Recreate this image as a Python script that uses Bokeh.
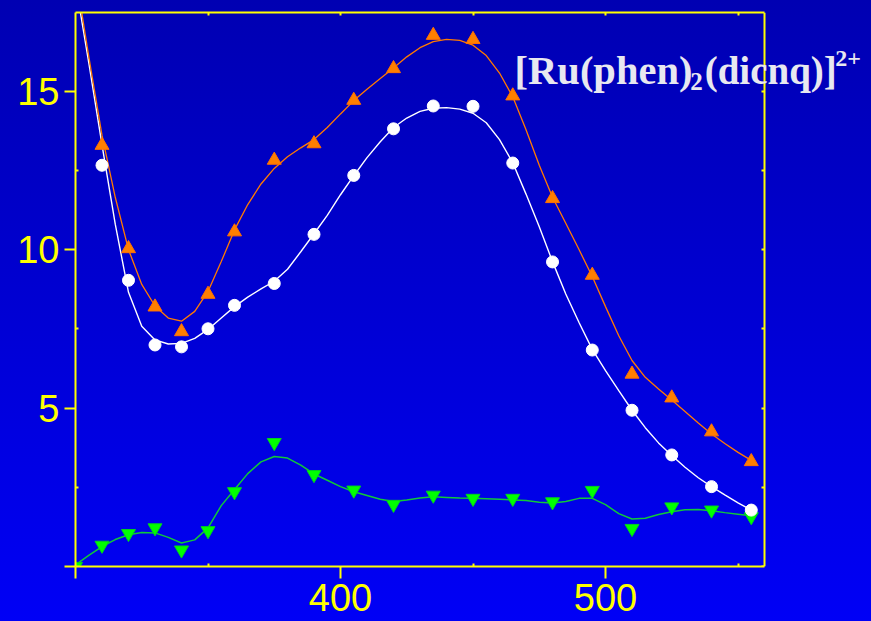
from bokeh.plotting import figure
from bokeh.models import (Range1d, FixedTicker, LinearAxis, Label, GlobalInlineStyleSheet)
from bokeh.embed import file_html
from bokeh.resources import INLINE

# ---- measured points ----
wavelength = [310, 320, 330, 340, 350, 360, 375, 390, 405, 420, 435, 450, 465, 480, 495, 510, 525, 540, 555]
orange_pts = [13.29, 10.03, 8.19, 7.41, 8.59, 10.56, 12.82, 13.34, 14.71, 15.71, 16.76, 16.63, 14.85, 11.61, 9.19, 6.07, 5.32, 4.25, 3.31]
white_pts = [12.66, 9.03, 6.99, 6.93, 7.50, 8.24, 8.93, 10.48, 12.34, 13.81, 14.53, 14.52, 12.73, 9.61, 6.83, 4.93, 3.52, 2.52, 1.78]
green_wl = [300, 310, 320, 330, 340, 350, 360, 375, 390, 405, 420, 435, 450, 465, 480, 495, 510, 525, 540, 555]
green_pts = [0.0, 0.67, 1.04, 1.22, 0.52, 1.13, 2.36, 3.91, 2.90, 2.41, 1.96, 2.25, 2.15, 2.15, 2.04, 2.40, 1.20, 1.88, 1.78, 1.57]

# ---- fitted curves ----
curve_wl = [300, 305, 310, 315, 320, 325, 330, 335, 340, 345, 350, 355, 360, 365, 370, 375, 380, 385,
            390, 395, 400, 405, 410, 415, 420, 425, 430, 435, 440, 445, 450, 455, 460, 465, 470, 475,
            480, 485, 490, 495, 500, 505, 510, 515, 520, 525, 530, 535, 540, 545, 550, 555]
orange_fit = [18.7, 16.1, 13.6, 11.65, 10.0, 8.9, 8.22, 7.84, 7.74, 8.05, 8.68, 9.62, 10.62, 11.42, 12.07, 12.56, 12.93, 13.21,
              13.47, 13.85, 14.28, 14.7, 15.06, 15.4, 15.73, 16.08, 16.37, 16.56, 16.63, 16.6, 16.45, 16.12, 15.57, 14.82, 13.78, 12.66,
              11.65, 10.83, 10.0, 9.15, 8.2, 7.28, 6.5, 5.97, 5.6, 5.25, 4.89, 4.53, 4.18, 3.88, 3.6, 3.35]
white_fit = [18.4, 15.9, 13.3, 10.8, 8.65, 7.58, 7.15, 7.02, 7.04, 7.2, 7.48, 7.84, 8.2, 8.5, 8.76, 9.0, 9.38, 9.93,
             10.5, 11.08, 11.73, 12.33, 12.9, 13.4, 13.85, 14.15, 14.36, 14.46, 14.48, 14.43, 14.3, 14.0, 13.47, 12.74, 11.75, 10.72,
             9.62, 8.6, 7.7, 6.85, 6.18, 5.55, 4.93, 4.38, 3.9, 3.5, 3.13, 2.8, 2.52, 2.26, 2.01, 1.78]
green_fit = [0.05, 0.35, 0.63, 0.85, 1.0, 1.07, 1.06, 0.92, 0.74, 0.84, 1.22, 1.92, 2.43, 2.93, 3.3, 3.47, 3.42, 3.2,
             2.92, 2.72, 2.52, 2.36, 2.24, 2.12, 2.05, 2.1, 2.16, 2.2, 2.18, 2.16, 2.15, 2.14, 2.12, 2.1, 2.08, 2.03,
             2.0, 2.05, 2.15, 2.15, 1.95, 1.67, 1.5, 1.52, 1.64, 1.73, 1.79, 1.8, 1.76, 1.7, 1.65, 1.6]

x_ticks = [300, 400, 500]
x_minor = [350, 450, 550]
y_ticks = [0, 5, 10, 15]
y_minor = [2.5, 7.5, 12.5, 17.5]
top_ticks = [350, 400, 450, 500, 550]
right_ticks = [0, 2.5, 5, 7.5, 10, 12.5, 15, 17.5]

YELLOW = "#ffff00"

css = GlobalInlineStyleSheet(css="""
html { height: 100%; background: linear-gradient(to bottom, #0000b2 0%, #0000d0 45%, #0000f6 100%); }
body { margin: 0; padding: 0; overflow: hidden; background: transparent; }
""")

# frame spans 300..560 over 689 px; it is extended to the right so the title is not clipped
p = figure(frame_width=790, frame_height=554, output_backend="svg", toolbar_location=None,
           x_range=Range1d(300, 598.1), y_range=Range1d(0, 17.48),
           min_border_left=75, min_border_right=6, min_border_top=12, min_border_bottom=55,
           background_fill_alpha=0, border_fill_alpha=0, outline_line_color=None)
p.stylesheets = [css]
p.grid.visible = False

for ax in (p.xaxis[0], p.yaxis[0]):
    ax.axis_line_color = YELLOW
    ax.axis_line_width = 2
    ax.major_tick_line_color = YELLOW
    ax.major_tick_line_width = 2
    ax.minor_tick_line_color = YELLOW
    ax.minor_tick_line_width = 2
    ax.major_tick_in = 0
    ax.minor_tick_in = 3
    ax.minor_tick_out = 0
    ax.major_label_text_color = YELLOW
    ax.major_label_text_font = "Liberation Sans"
    ax.major_label_text_font_size = "38px"

p.xaxis[0].ticker = FixedTicker(ticks=x_ticks, minor_ticks=x_minor)
p.xaxis[0].major_label_overrides = {300: ""}
p.xaxis[0].major_tick_out = 12
p.xaxis[0].major_label_standoff = 5
p.xaxis[0].bounds = (300, 560)

p.yaxis[0].ticker = FixedTicker(ticks=y_ticks, minor_ticks=y_minor)
p.yaxis[0].major_label_overrides = {0: ""}
p.yaxis[0].major_tick_out = 11
p.yaxis[0].major_label_standoff = 5

top = LinearAxis(ticker=FixedTicker(ticks=top_ticks, minor_ticks=[]), bounds=(300, 560))
right = LinearAxis(ticker=FixedTicker(ticks=right_ticks, minor_ticks=[]), fixed_location=560)
for ax in (top, right):
    ax.axis_line_color = YELLOW
    ax.axis_line_width = 2
    ax.major_tick_line_color = YELLOW
    ax.major_tick_line_width = 2
    ax.major_tick_in = 3
    ax.major_tick_out = 0
    ax.major_label_text_font_size = "0px"
    ax.major_label_text_alpha = 0
    ax.major_label_standoff = 0
p.add_layout(top, "above")
p.add_layout(right, "right")

# fitted curves
p.line(curve_wl, green_fit, line_color="#10c838", line_width=1.5)
p.line(curve_wl, white_fit, line_color="#ffffff", line_width=1.4)
p.line(curve_wl, orange_fit, line_color="#ff7a00", line_width=1.3)

# markers
p.scatter(green_wl, green_pts, marker="inverted_triangle", size=14, fill_color="#00ff00",
          line_color="#00d020", line_width=1)
p.scatter(wavelength, white_pts, marker="circle", size=12, fill_color="#ffffff", line_color="#ffffff")
p.scatter(wavelength, orange_pts, marker="triangle", size=14, fill_color="#ff7f00",
          line_color="#ff7000", line_width=1)

# compound title
TF = "Liberation Serif"
TC = "#e8e8f0"
p.add_layout(Label(x=465.7, y=15.64, text="[Ru(phen)", text_font=TF, text_font_style="bold",
                   text_font_size="40.5px", text_color=TC, text_baseline="alphabetic", text_align="left"))
p.add_layout(Label(x=532.0, y=15.3, text="2", text_font=TF, text_font_style="bold",
                   text_font_size="25px", text_color=TC, text_baseline="alphabetic", text_align="left"))
p.add_layout(Label(x=537.4, y=15.64, text="(dicnq)]", text_font=TF, text_font_style="bold",
                   text_font_size="39px", text_color=TC, text_baseline="alphabetic", text_align="left"))
p.add_layout(Label(x=586.7, y=16.04, text="2+", text_font=TF, text_font_style="bold",
                   text_font_size="24px", text_color=TC, text_baseline="alphabetic", text_align="left"))

open("out.html", "w").write(file_html(p, INLINE))
